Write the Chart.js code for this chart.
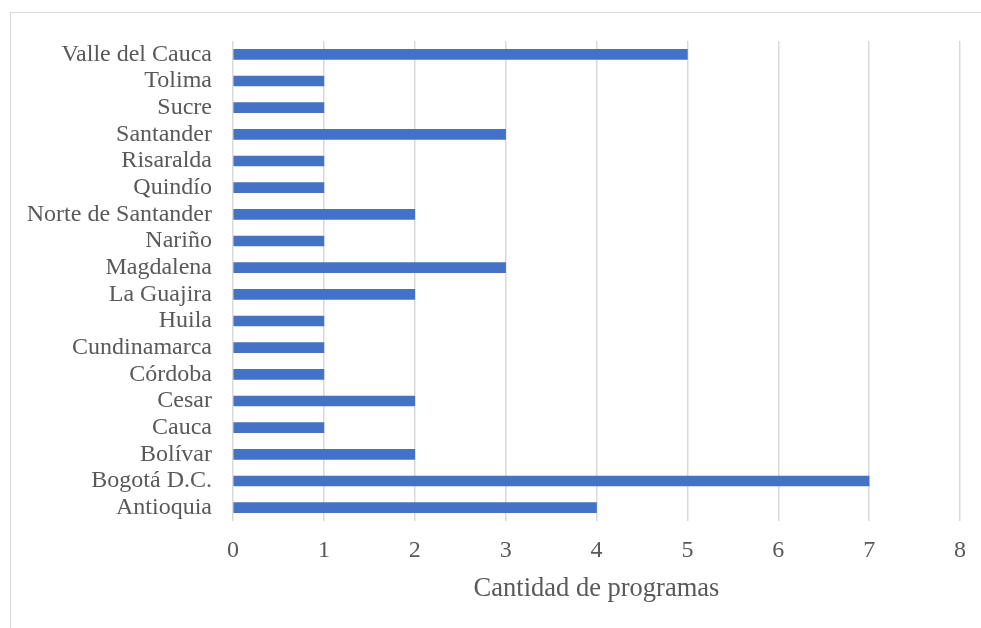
<!DOCTYPE html>
<html>
<head>
<meta charset="utf-8">
<script src="https://cdn.jsdelivr.net/npm/chart.js@4"></script>
<style>
  html, body { margin: 0; padding: 0; background: #fff; overflow: hidden; }
  #wrap { position: relative; width: 981px; height: 628px; overflow: hidden; }
  #frame { position: absolute; left: 10px; top: 12px; width: 990px; height: 640px; border: 1px solid #d9d9d9; }
  canvas { position: absolute; left: 0; top: 0; }
</style>
</head>
<body>
<div id="wrap">
  <div id="frame"></div>
  <canvas id="chart" width="981" height="628"></canvas>
</div>
<script>
const departamentos = [
  'Valle del Cauca', 'Tolima', 'Sucre', 'Santander', 'Risaralda', 'Quindío',
  'Norte de Santander', 'Nariño', 'Magdalena', 'La Guajira', 'Huila',
  'Cundinamarca', 'Córdoba', 'Cesar', 'Cauca', 'Bolívar', 'Bogotá D.C.', 'Antioquia'
];
const programas = [5, 1, 1, 3, 1, 1, 2, 1, 3, 2, 1, 1, 1, 2, 1, 2, 7, 4];
const xTicks = [0, 1, 2, 3, 4, 5, 6, 7, 8];

const serif = "'Liberation Serif', 'Times New Roman', serif";
const grey = '#595959';

const ctx = document.getElementById('chart').getContext('2d');
const chart = new Chart(ctx, {
  type: 'bar',
  data: {
    labels: departamentos,
    datasets: [{
      data: programas,
      backgroundColor: '#4472C4',
      barThickness: 10
    }]
  },
  options: {
    indexAxis: 'y',
    responsive: false,
    animation: false,
    layout: { padding: { top: 41, right: 21, left: 0, bottom: 0 } },
    plugins: {
      legend: { display: false },
      tooltip: { enabled: false }
    },
    scales: {
      x: {
        min: 0,
        max: 8,
        afterBuildTicks: function (scale) {
          scale.ticks = xTicks.map(v => ({ value: v }));
        },
        afterFit: function (scale) { scale.height = 107; },
        grid: { color: '#d9d9d9', lineWidth: 1.5, drawTicks: false },
        border: { display: false },
        ticks: { color: grey, padding: 15, font: { family: serif, size: 24 } },
        title: {
          display: true,
          text: 'Cantidad de programas',
          color: grey,
          padding: { top: 0, bottom: 23 },
          font: { family: serif, size: 26.5 }
        }
      },
      y: {
        afterFit: function (scale) { scale.width = 233; },
        grid: { display: false },
        border: { display: false },
        ticks: { color: grey, padding: 13, autoSkip: false, font: { family: serif, size: 24 } }
      }
    }
  }
});
</script>
</body>
</html>
